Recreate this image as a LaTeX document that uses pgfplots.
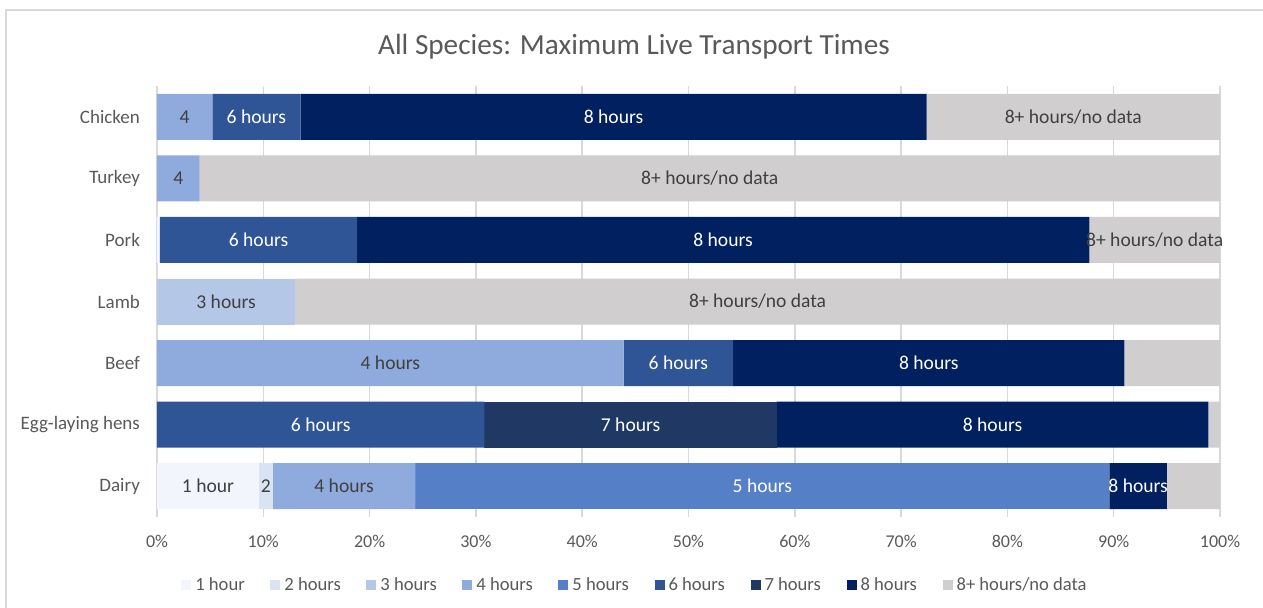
\documentclass[border=0pt]{standalone}
\usepackage{pgfplots}
\pgfplotsset{compat=1.18}
\usepackage{fontspec}
\setmainfont{Carlito}
\definecolor{c1}{HTML}{F2F5FB}
\definecolor{c2}{HTML}{DAE3F3}
\definecolor{c3}{HTML}{B4C7E7}
\definecolor{c4}{HTML}{8FAADC}
\definecolor{c5}{HTML}{5580C8}
\definecolor{c6}{HTML}{2F5597}
\definecolor{c7}{HTML}{1F3864}
\definecolor{c8}{HTML}{002060}
\definecolor{c9}{HTML}{D0CECE}
\definecolor{txt}{HTML}{595959}
\definecolor{lab}{HTML}{404040}
\definecolor{gridc}{HTML}{D9D9D9}
\begin{document}
\begin{tikzpicture}
\useasboundingbox (0,0) rectangle (631.5pt,303.5pt);
\begin{scope}
\clip (0,0) rectangle (631.5pt,303.5pt);
\draw[gridc, line width=1pt] (3pt,-10pt) -- (3pt,298.5pt) -- (640pt,298.5pt);
\end{scope}
\pgfplotsset{
  base/.style={
    at={(78.5pt,45pt)}, anchor=south west,
    scale only axis, width=531.5pt, height=215.5pt,
    xmin=0, xmax=100, ymin=-0.5, ymax=6.5,
  }
}
\begin{axis}[
  base,
  xbar stacked, bar width=23pt,
  axis line style={draw=none},
  xtick={0,10,...,100},
  xticklabel={\pgfmathprintnumber{\tick}\%},
  /pgf/number format/assume math mode=true,
  xmajorgrids, grid style={gridc, line width=0.75pt},
  major tick length=0pt,
  ytick={0,...,6},
  yticklabels={Dairy,Egg-laying hens,Beef,Lamb,Pork,Turkey,Chicken},
  ticklabel style={font=\fontsize{9}{11}\selectfont, text=txt},
  yticklabel style={font=\fontsize{9.5}{11}\selectfont, xshift=-5pt},
  xticklabel style={yshift=-5.5pt},
  title={All Species: Maximum Live Transport Times},
  title style={at={(0.4487,1)}, anchor=center, yshift=13.5pt, font=\fontsize{14.6}{17}\selectfont, text=txt},
  legend columns=9,
  legend style={at={(0.4506,-0.158)}, anchor=center, draw=none, fill=none,
    font=\fontsize{9.3}{11}\selectfont, text=txt,
    /tikz/every even column/.append style={column sep=10.8pt}},
  legend image code/.code={\fill[#1] (0pt,-2.6pt) rectangle (5pt,2.6pt);},
]
\addplot[fill=c1, draw=none] coordinates {(9.6,0) (0,1) (0,2) (0,3) (0.25,4) (0,5) (0,6)};
\addplot[fill=c2, draw=none] coordinates {(1.3,0) (0,1) (0,2) (0,3) (0,4) (0,5) (0,6)};
\addplot[fill=c3, draw=none] coordinates {(0,0) (0,1) (0,2) (13.0,3) (0,4) (0,5) (0,6)};
\addplot[fill=c4, draw=none] coordinates {(13.4,0) (0,1) (43.9,2) (0,3) (0,4) (4.0,5) (5.2,6)};
\addplot[fill=c5, draw=none] coordinates {(65.3,0) (0,1) (0,2) (0,3) (0,4) (0,5) (0,6)};
\addplot[fill=c6, draw=none] coordinates {(0,0) (30.8,1) (10.3,2) (0,3) (18.55,4) (0,5) (8.3,6)};
\addplot[fill=c7, draw=none] coordinates {(0,0) (27.5,1) (0,2) (0,3) (0,4) (0,5) (0,6)};
\addplot[fill=c8, draw=none] coordinates {(5.4,0) (40.6,1) (36.8,2) (0,3) (68.9,4) (0,5) (58.9,6)};
\addplot[fill=c9, draw=none] coordinates {(5.0,0) (1.1,1) (9.0,2) (87.0,3) (12.3,4) (96.0,5) (27.6,6)};
\legend{1 hour,2 hours,3 hours,4 hours,5 hours,6 hours,7 hours,8 hours,8+ hours/no data}
\end{axis}
\begin{axis}[
  base, hide axis,
  nodes near coords, point meta=explicit symbolic,
  every node near coord/.append style={anchor=center, font=\fontsize{9.8}{11}\selectfont, inner sep=0pt},
]
\addplot[only marks, mark=none, nodes near coords style={text=lab}] table[meta=label, col sep=comma] {
x,y,label
2.6,6,4
86.2,6,8+ hours/no data
2.0,5,4
52.0,5,8+ hours/no data
93.85,4,8+ hours/no data
6.5,3,3 hours
56.5,3,8+ hours/no data
21.95,2,4 hours
4.8,0,1 hour
10.25,0,2
17.6,0,4 hours
};
\addplot[only marks, mark=none, nodes near coords style={text=white}] table[meta=label, col sep=comma] {
x,y,label
9.35,6,6 hours
42.95,6,8 hours
9.55,4,6 hours
53.25,4,8 hours
49.05,2,6 hours
72.6,2,8 hours
15.4,1,6 hours
44.55,1,7 hours
78.6,1,8 hours
56.95,0,5 hours
92.3,0,8 hours
};
\end{axis}
\end{tikzpicture}
\end{document}
